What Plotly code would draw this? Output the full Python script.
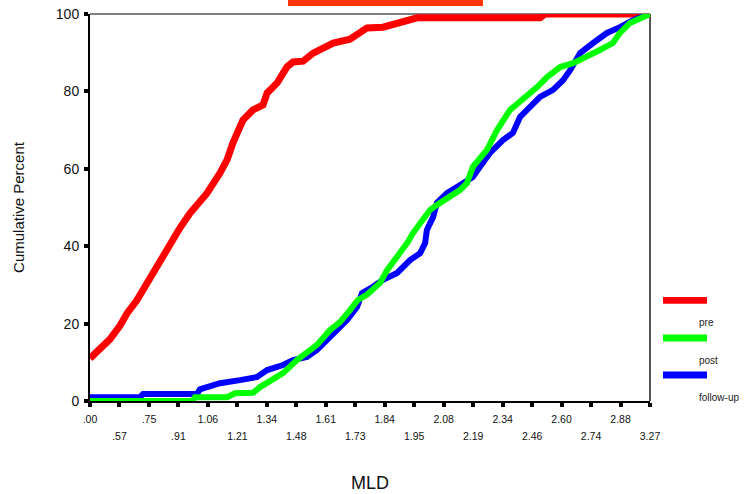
import plotly.graph_objects as go

# Category tick labels (MLD values shown on the axis)
mld_ticks = [".00", ".57", ".75", ".91", "1.06", "1.21", "1.34", "1.48", "1.61", "1.73",
             "1.84", "1.95", "2.08", "2.19", "2.34", "2.46", "2.60", "2.74", "2.88", "3.27"]
y_ticks = [0, 20, 40, 60, 80, 100]

# pre: position along category axis, cumulative percent
pre_pos = [0, 0.44, 0.68, 1.02, 1.26, 1.59, 2.04, 2.38, 2.71, 3.05, 3.39, 3.73, 3.97, 4.41,
           4.65, 4.85, 5.19, 5.53, 5.87, 6.01, 6.35, 6.69, 6.89, 7.23, 7.57, 7.91, 8.25, 8.82,
           9.16, 9.40, 9.94, 10.52, 10.86, 11.10, 12.45, 15.27, 15.44, 19.0]
pre_pct = [11, 14, 16, 19.5, 22.7, 26, 32, 36, 41, 44.7, 48.5, 51.5, 53.7, 58.9,
           62.3, 66.7, 72.6, 75.2, 76.5, 79.6, 82.2, 86.4, 87.6, 87.8, 89.9, 91.2, 92.5, 93.5,
           95.2, 96.4, 96.6, 97.7, 98.6, 99.0, 99.0, 99.0, 100, 100]

# post
post_pos = [0, 3.46, 3.56, 4.65, 4.92, 5.53, 5.77, 6.21, 6.55, 7.02, 7.36, 7.70, 8.14, 8.48,
            8.82, 9.09, 9.40, 9.84, 10.08, 10.42, 10.76, 10.96, 11.30, 11.54, 11.88, 12.21,
            12.55, 12.79, 12.99, 13.47, 13.81, 14.25, 14.69, 15.17, 15.51, 15.95, 16.39, 16.86,
            17.30, 17.74, 17.98, 18.32, 18.66, 19.00]
post_pct = [0, 0, 1.0, 1.0, 2.0, 2.1, 3.6, 5.4, 7.2, 10.6, 12.4, 14.5, 18.3, 20.4,
            23.5, 26.1, 27.5, 30.5, 33.8, 37.2, 40.8, 43.4, 46.8, 49.4, 51.2, 52.7,
            54.5, 56.3, 60.5, 64.9, 70.0, 75.2, 77.8, 81.1, 83.7, 86.3, 87.3, 88.9,
            90.7, 92.5, 95.1, 97.7, 99.0, 100]

# follow-up
fu_pos = [0, 1.70, 1.80, 3.63, 3.73, 4.41, 5.09, 5.67, 6.01, 6.55, 6.89, 7.36, 7.70, 8.04,
          8.38, 8.72, 9.06, 9.23, 9.60, 9.94, 10.42, 10.86, 11.20, 11.37, 11.43, 11.64, 11.77,
          12.11, 12.45, 12.65, 12.99, 13.23, 13.57, 14.01, 14.35, 14.59, 14.93, 15.27, 15.71,
          16.05, 16.29, 16.63, 17.07, 17.54, 17.98, 18.42, 19.00]
fu_pct = [1.0, 1.0, 1.8, 1.8, 3.0, 4.6, 5.4, 6.2, 8.0, 9.3, 10.6, 11.4, 13.2, 15.8,
          18.3, 20.9, 24.3, 27.9, 29.5, 31.3, 33.1, 36.4, 38.2, 40.8, 44.2, 47.5, 51.2,
          53.7, 55.3, 56.3, 57.9, 60.5, 64.1, 67.4, 69.3, 73.4, 76.0, 78.6, 80.4,
          82.9, 85.5, 89.9, 92.5, 95.1, 96.6, 98.4, 100]

series_names = ["pre", "post", "follow-up"]
series_colors = ["#FF0000", "#00FF00", "#0000FF"]

FONT = "Liberation Sans, Arial, sans-serif"

fig = go.Figure()
fig.add_trace(go.Scatter(x=pre_pos, y=pre_pct, mode="lines", name=series_names[0],
                         line=dict(color=series_colors[0], width=7), cliponaxis=False))
fig.add_trace(go.Scatter(x=fu_pos, y=fu_pct, mode="lines", name=series_names[2],
                         line=dict(color=series_colors[2], width=6), cliponaxis=False))
fig.add_trace(go.Scatter(x=post_pos, y=post_pct, mode="lines", name=series_names[1],
                         line=dict(color=series_colors[1], width=6), cliponaxis=False))
# invisible trace to anchor the second (staggered) label axis
fig.add_trace(go.Scatter(x=[0, 19], y=[0, 0], xaxis="x2", mode="lines",
                         line=dict(width=0), hoverinfo="skip", showlegend=False))

idx = list(range(len(mld_ticks)))
even_text = [t if i % 2 == 0 else "" for i, t in enumerate(mld_ticks)]

fig.update_layout(
    width=749, height=494,
    margin=dict(l=90, r=99, t=14, b=93, autoexpand=False),
    paper_bgcolor="white", plot_bgcolor="white",
    showlegend=False,
    font=dict(family=FONT, color="#111111"),
    xaxis=dict(
        range=[0, 19], tickmode="array", tickvals=idx, ticktext=even_text,
        ticks="outside", ticklen=4, tickwidth=4, tickcolor="black",
        tickfont=dict(size=10.5, family=FONT), ticklabelstandoff=3,
        showline=True, linecolor="black", linewidth=2, layer="below traces",
        showgrid=False, zeroline=False, automargin=False,
        title=dict(text="MLD", font=dict(size=18, family=FONT), standoff=53),
    ),
    xaxis2=dict(
        overlaying="x", anchor="y", side="bottom", matches="x", range=[0, 19],
        tickmode="array", tickvals=[i for i in idx if i % 2 == 1],
        ticktext=[mld_ticks[i] for i in idx if i % 2 == 1],
        ticks="outside", ticklen=4, tickcolor="rgba(0,0,0,0)",
        tickfont=dict(size=10.5, family=FONT), ticklabelstandoff=21,
        showline=False, showgrid=False, zeroline=False, automargin=False,
    ),
    yaxis=dict(
        range=[0, 100], tickmode="array", tickvals=y_ticks,
        ticks="outside", ticklen=4, tickwidth=4, tickcolor="black",
        tickfont=dict(size=14, family=FONT), ticklabelstandoff=2,
        showline=True, linecolor="black", linewidth=2, layer="below traces",
        showgrid=False, zeroline=False, automargin=False,
        title=dict(text="Cumulative Percent", font=dict(size=15, family=FONT), standoff=28),
    ),
)

# frame: top and right borders
fig.add_shape(type="line", xref="paper", yref="paper", x0=0, x1=1, y0=1, y1=1,
              line=dict(color="black", width=1), layer="below")
fig.add_shape(type="line", xref="paper", yref="paper", x0=1, x1=1, y0=0, y1=1,
              line=dict(color="#555555", width=2), layer="below")

# cut-off title bar at the top
fig.add_shape(type="rect", xref="paper", yref="paper", x0=0.3536, x1=0.7018, y0=1.0207, y1=1.04,
              line=dict(width=0), fillcolor="#FF3300", layer="above")

# custom legend: colour bar above the label
leg_bar_y = [0.26, 0.163, 0.067]
for name, color, by in zip(series_names, series_colors, leg_bar_y):
    fig.add_shape(type="rect", xref="paper", yref="paper",
                  x0=(663 - 90) / 560, x1=(707 - 90) / 560, y0=by - 0.009, y1=by + 0.009,
                  line=dict(width=0), fillcolor=color)
    fig.add_annotation(text=name, xref="paper", yref="paper", x=(697 - 90) / 560,
                       y=by - 0.058, xanchor="left", yanchor="middle", showarrow=False,
                       font=dict(size=10, family=FONT, color="#222222"))

# the page's default 8px body margin would shift the figure; remove it
fig.write_html("out.html", config={"displayModeBar": False},
               post_script="document.body.style.margin='0px';")
